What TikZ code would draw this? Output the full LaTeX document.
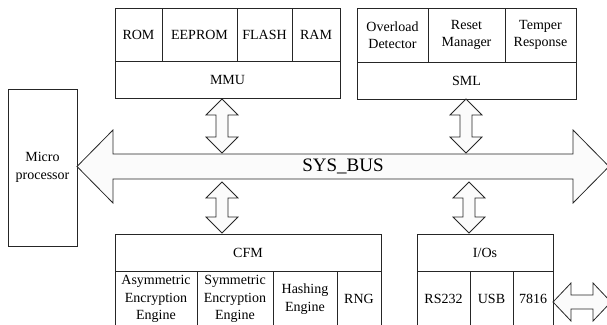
\documentclass[tikz,border=0pt]{standalone}
\usepackage{fontspec}
\setmainfont{Liberation Serif}
\usetikzlibrary{calc}
\newcommand\vdblarrow[5]{%
  \draw[blockarrow] (#1) -- ($(#1)+(#4,#3)$) -- ($(#1)+(#5,#3)$) -- ($(#2)+(#5,-#3)$) -- ($(#2)+(#4,-#3)$) -- (#2)
    -- ($(#2)+(-#4,-#3)$) -- ($(#2)+(-#5,-#3)$) -- ($(#1)+(-#5,#3)$) -- ($(#1)+(-#4,#3)$) -- cycle;}
\newcommand\hdblarrow[5]{%
  \draw[blockarrow] (#1) -- ($(#1)+(#3,-#4)$) -- ($(#1)+(#3,-#5)$) -- ($(#2)+(-#3,-#5)$) -- ($(#2)+(-#3,-#4)$) -- (#2)
    -- ($(#2)+(-#3,#4)$) -- ($(#2)+(-#3,#5)$) -- ($(#1)+(#3,#5)$) -- ($(#1)+(#3,#4)$) -- cycle;}
\begin{document}
\begin{tikzpicture}[x=1pt,y=-1pt,line width=0.8pt,
  box/.style={draw=black!85, rectangle, inner sep=0pt, align=center,
    font=\fontsize{14}{17.5}\selectfont},
  blockarrow/.style={draw=black!85, fill=white!98.5!black, line join=miter}]
\useasboundingbox (0,0) rectangle (607,324);
% MMU block
\node[box, minimum width=47, minimum height=53] (rom) at (138.5,34.5) {ROM};
\node[box, minimum width=75, minimum height=53] (eeprom) at (199.5,34.5) {EEPROM};
\node[box, minimum width=55, minimum height=53] (flash) at (264.5,34.5) {FLASH};
\node[box, minimum width=48, minimum height=53] (ram) at (316,34.5) {RAM};
\node[box, minimum width=225, minimum height=37] (mmu) at (227.5,79.5) {MMU};
% SML block
\node[box, minimum width=71, minimum height=54] (ovl) at (392.5,35) {Overload\\Detector};
\node[box, minimum width=77, minimum height=54] (rst) at (466.5,35) {Reset\\Manager};
\node[box, minimum width=71, minimum height=54] (tmp) at (540.5,35) {Temper\\Response};
\node[box, minimum width=219, minimum height=37] (sml) at (466.5,80.5) {SML};
% Microprocessor
\node[box, minimum width=69, minimum height=157] (micro) at (42.5,167.5) {Micro\\processor};
% CFM block
\node[box, minimum width=266, minimum height=37] (cfm) at (248,252.5) {CFM};
\node[box, minimum width=82, minimum height=56] (asym) at (156,299) {Asymmetric\\Encryption\\Engine};
\node[box, minimum width=76, minimum height=56] (sym) at (235,299) {Symmetric\\Encryption\\Engine};
\node[box, minimum width=64, minimum height=56] (hash) at (305,299) {Hashing\\Engine};
\node[box, minimum width=44, minimum height=56] (rng) at (359,299) {RNG};
% I/Os block
\node[box, minimum width=136, minimum height=37] (ios) at (485,252.5) {I/Os};
\node[box, minimum width=53, minimum height=56] (rs) at (443.5,299) {RS232};
\node[box, minimum width=43, minimum height=56] (usb) at (491.5,299) {USB};
\node[box, minimum width=40, minimum height=56] (iso) at (533,299) {7816};
% connector end points
\coordinate (busR) at (609,166.5);
\coordinate (busL) at (77,166.5);
\coordinate (mmuT) at (222,99);   \coordinate (mmuB) at (222,153);
\coordinate (smlT) at (466,99);   \coordinate (smlB) at (466,153);
\coordinate (cfmT) at (222,182);  \coordinate (cfmB) at (222,233);
\coordinate (iosT) at (469,182);  \coordinate (iosB) at (469,233);
\coordinate (extL) at (553,302);  \coordinate (extR) at (611,302);
% bus
\hdblarrow{busL}{busR}{36}{36.5}{12.5}
\node[font=\fontsize{19}{22}\selectfont, inner sep=0pt] (bus) at (343,166) {SYS\_BUS};
% vertical arrows
\vdblarrow{mmuT}{mmuB}{16}{16}{6}
\vdblarrow{smlT}{smlB}{16}{16}{6}
\vdblarrow{cfmT}{cfmB}{16}{16}{6}
\vdblarrow{iosT}{iosB}{16}{16}{6}
% external arrow
\hdblarrow{extL}{extR}{18}{19}{7}
\end{tikzpicture}
\end{document}
